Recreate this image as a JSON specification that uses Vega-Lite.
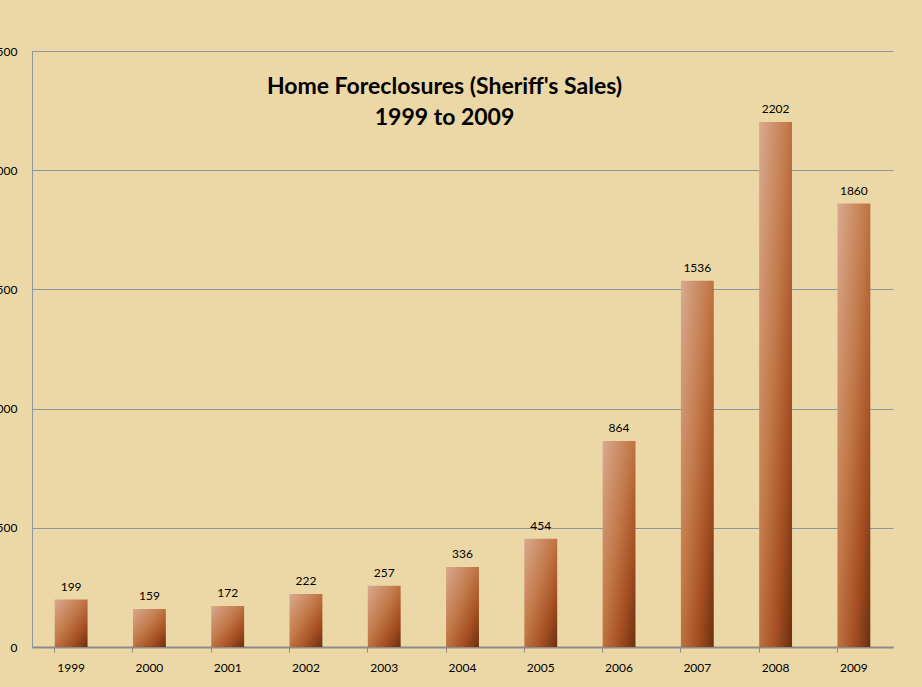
{
  "$schema": "https://vega.github.io/schema/vega-lite/v6.json",
  "width": 861,
  "height": 596,
  "autosize": "none",
  "padding": {"left": 32, "top": 51, "right": 29, "bottom": 40},
  "background": "#EBD8A6",
  "title": {
    "text": ["Home Foreclosures (Sheriff's Sales)", "1999 to 2009"],
    "font": "Lato",
    "fontSize": 23,
    "fontWeight": "bold",
    "color": "#000000",
    "anchor": "middle",
    "dx": -18,
    "baseline": "top",
    "offset": -85,
    "lineHeight": 31
  },
  "data": {
    "values": [
      {"year": "1999", "sales": 199},
      {"year": "2000", "sales": 159},
      {"year": "2001", "sales": 172},
      {"year": "2002", "sales": 222},
      {"year": "2003", "sales": 257},
      {"year": "2004", "sales": 336},
      {"year": "2005", "sales": 454},
      {"year": "2006", "sales": 864},
      {"year": "2007", "sales": 1536},
      {"year": "2008", "sales": 2202},
      {"year": "2009", "sales": 1860}
    ]
  },
  "config": {
    "view": {"stroke": null},
    "axis": {"labelFont": "Lato", "labelFontSize": 12, "labelColor": "#000000"}
  },
  "encoding": {
    "x": {
      "field": "year",
      "type": "ordinal",
      "scale": {"paddingInner": 0.58, "paddingOuter": 0.29},
      "axis": {
        "title": null,
        "labelAngle": 0,
        "bandPosition": 0,
        "tickSize": 5,
        "tickColor": "#8C8C8C",
        "domainColor": "#8C8C8C",
        "domainWidth": 2,
        "labelPadding": 10,
        "grid": false
      }
    },
    "y": {
      "field": "sales",
      "type": "quantitative",
      "scale": {"domain": [0, 2500], "nice": false},
      "axis": {
        "title": null,
        "values": [0, 500, 1000, 1500, 2000, 2500],
        "ticks": false,
        "labelPadding": 15,
        "domainColor": "#8C96A0",
        "gridColor": "#8C96A0",
        "gridWidth": 1
      }
    }
  },
  "layer": [
    {
      "mark": {
        "type": "bar",
        "color": {
          "gradient": "linear",
          "x1": 0, "y1": 0, "x2": 1, "y2": 1,
          "stops": [
            {"offset": 0, "color": "#D9AA90"},
            {"offset": 0.45, "color": "#C27848"},
            {"offset": 0.75, "color": "#A44E22"},
            {"offset": 1, "color": "#6A3010"}
          ]
        }
      }
    },
    {
      "mark": {"type": "text", "baseline": "bottom", "dy": -6, "font": "Lato", "fontSize": 12, "color": "#000000"},
      "encoding": {"text": {"field": "sales", "type": "quantitative"}}
    }
  ]
}
